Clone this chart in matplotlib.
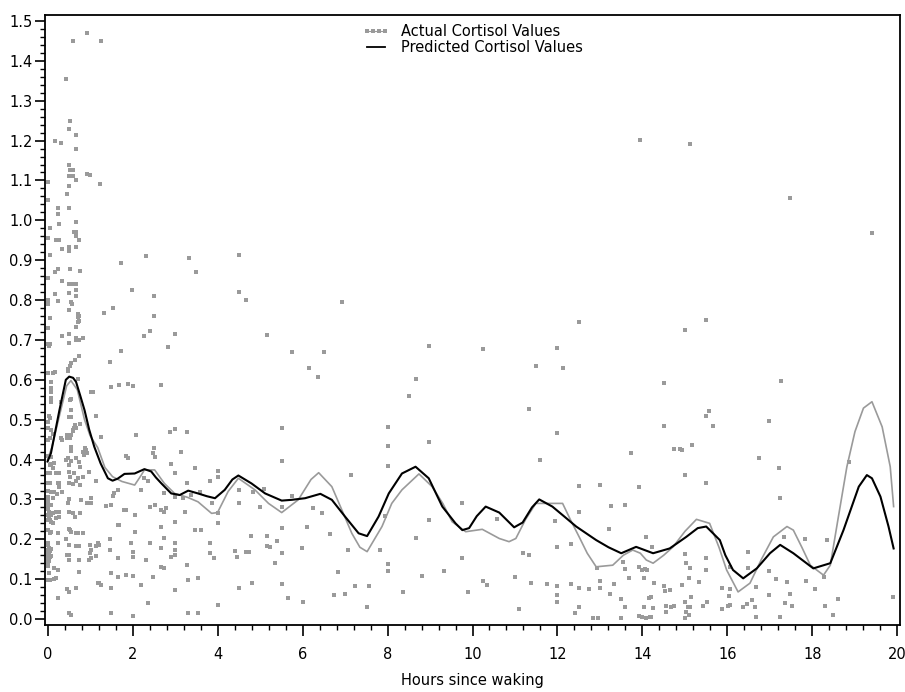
import numpy as np
import matplotlib
matplotlib.use("Agg")
import matplotlib.pyplot as plt
from matplotlib.lines import Line2D
from matplotlib.ticker import MultipleLocator

# observed samples: (hours since waking, cortisol)
actual_points = [
    # first half hour, dense column near waking
    (0.0, 0.955), (0.0, 0.855), (0.01, 0.80), (0.0, 0.79), (0.0, 0.73), (0.05, 0.755), (0.02, 1.096),
    (0.02, 1.05), (0.05, 0.98), (0.05, 0.913), (0.02, 0.69), (0.05, 0.69), (0.03, 0.685), (0.0, 0.618),
    (0.09, 0.595), (0.08, 0.58), (0.09, 0.57), (0.08, 0.555), (0.09, 0.545), (0.04, 0.508), (0.06, 0.503),
    (0.0, 0.495), (0.02, 0.48), (0.08, 0.475), (0.13, 0.465), (0.05, 0.455), (0.02, 0.45), (0.05, 0.386),
    (0.0, 0.41), (0.08, 0.407), (0.07, 0.39), (0.0, 0.365), (0.05, 0.365), (0.0, 0.34), (0.05, 0.34),
    (0.0, 0.322), (0.08, 0.318), (0.02, 0.305), (0.0, 0.297), (0.0, 0.286), (0.08, 0.286), (0.0, 0.275),
    (0.04, 0.269), (0.02, 0.261), (0.08, 0.261), (0.04, 0.257), (0.0, 0.248), (0.05, 0.248), (0.08, 0.244),
    (0.0, 0.223), (0.05, 0.215), (0.08, 0.219), (0.0, 0.19), (0.02, 0.185), (0.04, 0.178), (0.0, 0.172),
    (0.02, 0.168), (0.04, 0.16), (0.0, 0.158), (0.06, 0.155), (0.02, 0.15), (0.08, 0.158), (0.04, 0.145),
    (0.0, 0.14), (0.06, 0.17), (0.08, 0.175), (0.0, 0.098), (0.05, 0.098), (0.04, 0.116), (0.0, 0.133),
    (0.165, 1.20), (0.31, 1.195), (0.25, 1.03), (0.25, 1.015), (0.27, 0.99), (0.21, 0.95), (0.28, 0.95),
    (0.34, 0.929), (0.25, 0.879), (0.17, 0.87), (0.34, 0.848), (0.17, 0.815), (0.25, 0.798), (0.34, 0.711),
    (0.35, 0.71), (0.12, 0.618), (0.17, 0.62), (0.31, 0.545), (0.31, 0.453), (0.16, 0.392), (0.12, 0.38),
    (0.2, 0.365), (0.28, 0.365), (0.24, 0.34), (0.28, 0.34), (0.28, 0.332), (0.16, 0.318), (0.22, 0.314),
    (0.33, 0.318), (0.12, 0.303), (0.13, 0.318), (0.12, 0.267), (0.2, 0.269), (0.28, 0.269), (0.12, 0.24),
    (0.2, 0.253), (0.28, 0.255), (0.25, 0.217), (0.24, 0.19), (0.16, 0.127), (0.24, 0.123), (0.16, 0.1),
    (0.2, 0.103), (0.25, 0.052), (0.43, 1.355), (0.35, 0.45),
    # 0.4 - 0.8 h
    (0.61, 1.45), (0.54, 1.25), (0.50, 1.23), (0.67, 1.215), (0.67, 1.18), (0.50, 1.14), (0.52, 1.125),
    (0.61, 1.125), (0.50, 1.11), (0.61, 1.11), (0.67, 1.10), (0.50, 1.085), (0.46, 1.065), (0.50, 1.03),
    (0.67, 0.996), (0.63, 0.97), (0.68, 0.97), (0.68, 0.96), (0.75, 0.95), (0.67, 0.934), (0.50, 0.933),
    (0.50, 0.924), (0.54, 0.879), (0.76, 0.874), (0.50, 0.84), (0.57, 0.84), (0.67, 0.841), (0.68, 0.824),
    (0.50, 0.817), (0.67, 0.81), (0.55, 0.795), (0.57, 0.79), (0.71, 0.765), (0.75, 0.76), (0.71, 0.758),
    (0.75, 0.748), (0.71, 0.745), (0.50, 0.775), (0.66, 0.733), (0.50, 0.715), (0.68, 0.705), (0.51, 0.715),
    (0.51, 0.693), (0.68, 0.70), (0.75, 0.70), (0.75, 0.66), (0.65, 0.65), (0.55, 0.643), (0.53, 0.635),
    (0.49, 0.627), (0.47, 0.623), (0.71, 0.602), (0.53, 0.55), (0.55, 0.553), (0.50, 0.506), (0.55, 0.506),
    (0.56, 0.525), (0.65, 0.487), (0.63, 0.478), (0.59, 0.472), (0.55, 0.462), (0.51, 0.462), (0.46, 0.462),
    (0.55, 0.432), (0.55, 0.422), (0.47, 0.403), (0.55, 0.397), (0.51, 0.386), (0.67, 0.404), (0.75, 0.395),
    (0.77, 0.382), (0.44, 0.399), (0.51, 0.37), (0.54, 0.357), (0.63, 0.365), (0.71, 0.353), (0.51, 0.34),
    (0.59, 0.339), (0.77, 0.336), (0.68, 0.345), (0.51, 0.30), (0.47, 0.292), (0.79, 0.299), (0.51, 0.269),
    (0.59, 0.265), (0.76, 0.265), (0.64, 0.255), (0.5, 0.225), (0.54, 0.223), (0.55, 0.219), (0.67, 0.217),
    (0.71, 0.215), (0.43, 0.2), (0.51, 0.186), (0.67, 0.183), (0.75, 0.183), (0.46, 0.161), (0.51, 0.16),
    (0.51, 0.148), (0.75, 0.148), (0.75, 0.119), (0.67, 0.077), (0.51, 0.067), (0.51, 0.014), (0.55, 0.01),
    (0.46, 0.075), (0.46, 0.455), (0.52, 0.455), (0.60, 0.475), (0.68, 0.48), (0.76, 0.49),
    # 0.8 - 2.1 h
    (0.92, 1.47), (0.93, 1.117), (1.0, 1.114), (1.23, 1.09), (1.25, 1.45), (0.84, 0.705), (1.02, 0.57),
    (1.06, 0.57), (0.87, 0.428), (0.9, 0.424), (0.94, 0.416), (0.83, 0.42), (0.85, 0.412), (1.14, 0.51),
    (1.26, 0.457), (0.98, 0.37), (0.83, 0.357), (1.14, 0.347), (0.94, 0.29), (1.02, 0.29), (1.03, 0.303),
    (0.84, 0.215), (1.18, 0.19), (1.22, 0.186), (0.99, 0.186), (1.02, 0.173), (1.01, 0.165), (1.02, 0.152),
    (0.98, 0.148), (1.15, 0.183), (1.15, 0.158), (1.22, 0.09), (1.26, 0.085), (1.19, 0.09),
    (1.73, 0.894), (1.99, 0.825), (1.53, 0.779), (1.34, 0.767), (1.73, 0.673), (1.46, 0.645), (1.5, 0.582),
    (1.69, 0.587), (1.89, 0.59), (2.0, 0.585), (2.09, 0.462), (1.85, 0.409), (1.89, 0.404), (1.65, 0.324),
    (1.57, 0.315), (1.53, 0.309), (1.38, 0.283), (1.5, 0.286), (1.85, 0.273), (1.81, 0.273), (2.05, 0.261),
    (1.65, 0.236), (1.69, 0.236), (1.48, 0.2), (1.46, 0.173), (2.0, 0.169), (2.0, 0.156), (1.65, 0.152),
    (1.5, 0.115), (1.85, 0.11), (1.65, 0.106), (2.0, 0.108), (1.5, 0.077), (1.5, 0.016), (2.0, 0.008),
    (2.05, 0.219), (1.97, 0.19),
    # 2.1 - 3.6 h
    (2.32, 0.911), (2.5, 0.811), (2.5, 0.76), (2.28, 0.711), (2.4, 0.723), (2.99, 0.714), (2.83, 0.683),
    (2.68, 0.587), (2.87, 0.47), (2.99, 0.476), (3.27, 0.47), (2.5, 0.428), (3.15, 0.42), (2.48, 0.417),
    (2.52, 0.407), (2.91, 0.39), (3.46, 0.38), (2.99, 0.365), (2.28, 0.353), (2.36, 0.345), (3.27, 0.34),
    (2.99, 0.307), (3.19, 0.303), (3.38, 0.311), (2.2, 0.324), (2.75, 0.315), (2.4, 0.282), (2.52, 0.286),
    (2.68, 0.273), (2.79, 0.278), (2.75, 0.269), (3.23, 0.269), (2.68, 0.232), (2.99, 0.244), (3.46, 0.223),
    (2.4, 0.19), (2.74, 0.202), (2.99, 0.19), (2.99, 0.173), (2.99, 0.16), (2.68, 0.177), (2.32, 0.148),
    (2.91, 0.156), (3.27, 0.135), (2.68, 0.131), (2.75, 0.127), (2.48, 0.106), (2.2, 0.085), (2.99, 0.073),
    (3.31, 0.098), (2.36, 0.041), (3.31, 0.014), (3.33, 0.905), (3.5, 0.87),
    # 3.5 - 10.6 h
    (4.5, 0.913), (4.51, 0.82), (4.68, 0.80), (6.93, 0.794), (5.17, 0.712), (5.75, 0.669), (6.51, 0.669),
    (8.97, 0.685), (10.25, 0.677), (6.16, 0.629), (6.36, 0.608), (8.66, 0.602), (8.5, 0.56), (5.51, 0.48),
    (8.0, 0.481), (8.01, 0.434), (8.97, 0.443), (5.51, 0.396), (8.0, 0.384), (7.15, 0.361), (4.0, 0.371),
    (4.0, 0.357), (3.82, 0.346), (3.58, 0.319), (4.5, 0.324), (5.09, 0.326), (4.84, 0.318), (5.75, 0.309),
    (4.5, 0.292), (3.87, 0.29), (9.76, 0.292), (5.01, 0.28), (5.51, 0.28), (6.24, 0.278), (6.45, 0.267),
    (4.0, 0.265), (7.93, 0.258), (8.97, 0.248), (10.57, 0.251), (4.0, 0.24), (6.1, 0.232), (5.51, 0.229),
    (3.6, 0.223), (6.65, 0.212), (4.79, 0.208), (5.16, 0.208), (5.41, 0.196), (3.82, 0.191), (8.66, 0.202),
    (5.16, 0.183), (5.23, 0.18), (5.98, 0.179), (7.07, 0.173), (7.83, 0.173), (4.41, 0.171), (4.68, 0.167),
    (4.74, 0.167), (5.51, 0.165), (3.82, 0.165), (3.92, 0.152), (4.45, 0.155), (9.76, 0.152), (5.35, 0.14),
    (8.0, 0.137), (8.0, 0.121), (6.83, 0.117), (9.34, 0.121), (8.8, 0.108), (10.25, 0.096), (10.33, 0.085),
    (3.54, 0.103), (4.82, 0.09), (5.51, 0.087), (7.24, 0.083), (7.57, 0.083), (4.5, 0.077), (8.37, 0.067),
    (6.75, 0.06), (7.0, 0.064), (9.9, 0.067), (5.67, 0.052), (6.0, 0.042), (4.0, 0.035), (7.52, 0.031),
    (3.54, 0.014),
    # 10.6 - 20 h
    (13.93, 1.202), (12.5, 0.744), (15.13, 1.192), (17.48, 1.057), (19.4, 0.969), (15.5, 0.75),
    (15.01, 0.725), (12.0, 0.679), (11.49, 0.635), (12.12, 0.629), (14.51, 0.593), (17.25, 0.597),
    (11.32, 0.528), (15.57, 0.523), (15.5, 0.509), (16.98, 0.497), (14.51, 0.484), (15.65, 0.484),
    (12.0, 0.466), (14.74, 0.426), (14.88, 0.427), (14.92, 0.424), (15.16, 0.437), (13.74, 0.416),
    (16.75, 0.403), (11.59, 0.399), (18.87, 0.393), (17.22, 0.378), (15.01, 0.361), (15.5, 0.342),
    (13.92, 0.33), (12.5, 0.334), (12.99, 0.336), (17.24, 0.304), (13.59, 0.286), (13.25, 0.283),
    (12.5, 0.268), (11.95, 0.246), (13.21, 0.227), (14.09, 0.206), (17.34, 0.206), (17.83, 0.201),
    (18.34, 0.198), (12.32, 0.188), (12.0, 0.18), (14.23, 0.18), (16.49, 0.169), (11.18, 0.165),
    (11.33, 0.16), (15.0, 0.163), (15.03, 0.14), (15.5, 0.152), (12.92, 0.127), (13.58, 0.125),
    (13.92, 0.13), (14.05, 0.125), (14.0, 0.122), (14.1, 0.122), (15.13, 0.127), (15.5, 0.124),
    (16.06, 0.131), (16.49, 0.127), (16.98, 0.121), (18.26, 0.105), (11.0, 0.106), (13.01, 0.096),
    (13.68, 0.102), (14.03, 0.102), (13.55, 0.144), (14.26, 0.09), (15.1, 0.102), (15.33, 0.094),
    (11.37, 0.09), (11.75, 0.087), (12.0, 0.084), (12.32, 0.087), (12.5, 0.077), (12.75, 0.075),
    (12.99, 0.077), (13.32, 0.087), (14.5, 0.083), (14.64, 0.074), (14.54, 0.071), (14.94, 0.085),
    (15.88, 0.077), (16.06, 0.075), (16.04, 0.058), (16.67, 0.081), (16.98, 0.06), (17.14, 0.1),
    (17.4, 0.092), (17.46, 0.064), (17.85, 0.096), (18.05, 0.075), (12.0, 0.06), (12.0, 0.043),
    (13.24, 0.064), (13.5, 0.049), (14.15, 0.052), (14.2, 0.056), (14.03, 0.031), (14.25, 0.027),
    (13.92, 0.008), (14.0, 0.005), (14.09, 0.003), (14.17, 0.005), (14.21, 0.006), (13.6, 0.031),
    (13.5, 0.002), (12.83, 0.002), (12.95, 0.002), (12.42, 0.014), (12.5, 0.031), (11.1, 0.024),
    (14.56, 0.033), (14.66, 0.031), (14.73, 0.033), (14.55, 0.018), (15.0, 0.043), (15.06, 0.031),
    (15.12, 0.031), (15.03, 0.018), (15.09, 0.01), (15.0, 0.002), (15.15, 0.056), (15.43, 0.033),
    (15.52, 0.043), (15.86, 0.024), (16.02, 0.033), (16.06, 0.035), (16.37, 0.031), (16.45, 0.038),
    (16.57, 0.048), (16.65, 0.029), (16.66, 0.006), (17.24, 0.004), (17.36, 0.041), (17.51, 0.033),
    (18.3, 0.033), (18.48, 0.01), (18.61, 0.049), (19.9, 0.054),
]

# model prediction (black)
pred_hours = [0.0, 0.08, 0.18, 0.28, 0.43, 0.51, 0.6, 0.67, 0.77, 0.87, 0.98, 1.10, 1.25, 1.42, 1.53,
              1.65, 1.81, 2.05, 2.28, 2.44, 2.55, 2.68, 2.91, 3.11, 3.31, 3.54, 3.75, 3.94, 4.17, 4.35,
              4.49, 4.8, 5.12, 5.51, 5.75, 6.06, 6.42, 6.69, 7.0, 7.32, 7.52, 7.79, 8.03, 8.34, 8.66,
              8.97, 9.29, 9.6, 9.76, 9.92, 10.1, 10.31, 10.63, 10.98, 11.18, 11.4, 11.57, 11.88, 12.15,
              12.44, 12.91, 13.2, 13.5, 13.85, 14.25, 14.64, 15.03, 15.3, 15.5, 15.82, 15.95, 16.13,
              16.37, 16.69, 17.0, 17.24, 17.55, 18.02, 18.42, 18.73, 19.09, 19.28, 19.4, 19.6, 19.79, 19.91]
pred_vals = [0.395, 0.416, 0.47, 0.524, 0.60, 0.608, 0.605, 0.595, 0.56, 0.524, 0.475, 0.432, 0.39, 0.353,
             0.347, 0.352, 0.364, 0.365, 0.376, 0.37, 0.355, 0.34, 0.315, 0.311, 0.322, 0.315, 0.308,
             0.303, 0.324, 0.35, 0.36, 0.34, 0.315, 0.297, 0.299, 0.303, 0.314, 0.299, 0.257, 0.215,
             0.208, 0.257, 0.315, 0.365, 0.382, 0.353, 0.282, 0.24, 0.223, 0.228, 0.258, 0.282, 0.267,
             0.23, 0.242, 0.28, 0.30, 0.282, 0.258, 0.232, 0.198, 0.18, 0.165, 0.181, 0.165, 0.177,
             0.206, 0.228, 0.232, 0.198, 0.16, 0.123, 0.102, 0.127, 0.165, 0.186, 0.165, 0.127, 0.14,
             0.223, 0.332, 0.361, 0.353, 0.307, 0.232, 0.177]

# smoothed observed values (grey)
smooth_hours = [0.0, 0.1, 0.28, 0.45, 0.55, 0.7, 0.87, 1.0, 1.18, 1.35, 1.53, 1.75, 2.05, 2.2, 2.28, 2.52,
                2.75, 2.99, 3.3, 3.54, 3.86, 4.0, 4.25, 4.49, 4.88, 5.2, 5.51, 5.9, 6.2, 6.38, 6.69, 6.9,
                7.16, 7.35, 7.52, 7.87, 8.1, 8.34, 8.74, 9.05, 9.3, 9.52, 9.84, 10.23, 10.63, 10.86, 11.02,
                11.25, 11.49, 12.12, 12.3, 12.51, 12.7, 12.91, 13.3, 13.55, 13.77, 13.95, 14.09, 14.25,
                14.5, 14.72, 15.0, 15.27, 15.58, 15.8, 15.98, 16.25, 16.53, 16.8, 17.08, 17.4, 17.55,
                17.75, 17.95, 18.26, 18.42, 18.6, 18.81, 19.0, 19.2, 19.4, 19.64, 19.83, 19.91]
smooth_vals = [0.40, 0.43, 0.51, 0.585, 0.598, 0.575, 0.50, 0.46, 0.43, 0.38, 0.357, 0.345, 0.336, 0.36,
               0.374, 0.374, 0.34, 0.315, 0.305, 0.294, 0.265, 0.267, 0.32, 0.353, 0.324, 0.29, 0.267,
               0.299, 0.35, 0.367, 0.332, 0.28, 0.215, 0.18, 0.169, 0.232, 0.29, 0.324, 0.364, 0.332,
               0.29, 0.244, 0.219, 0.225, 0.202, 0.194, 0.202, 0.25, 0.29, 0.29, 0.25, 0.206, 0.165,
               0.131, 0.135, 0.16, 0.173, 0.165, 0.148, 0.14, 0.16, 0.181, 0.22, 0.25, 0.24, 0.18, 0.123,
               0.068, 0.09, 0.15, 0.206, 0.232, 0.223, 0.18, 0.135, 0.11, 0.135, 0.25, 0.382, 0.47,
               0.529, 0.545, 0.482, 0.382, 0.282]

legend_labels = ["Actual Cortisol Values", "Predicted Cortisol Values"]
x_label = "Hours since waking"

GREY = "#9a9a9a"

fig = plt.figure(figsize=(9.05, 6.92), dpi=100)
ax = fig.add_axes([45 / 905, 1 - 625 / 692, 855 / 905, 610 / 692])

pts = np.array(actual_points)
ax.plot(pts[:, 0], pts[:, 1], linestyle="none", marker="s", markersize=2.6,
        color=GREY, markeredgewidth=0, zorder=2)
ax.plot(smooth_hours, smooth_vals, color=GREY, lw=1.2, solid_joinstyle="round", zorder=3)
ax.plot(pred_hours, pred_vals, color="black", lw=1.5, solid_joinstyle="round", zorder=4)

ax.set_xlim(-0.06, 20.06)
ax.set_ylim(-0.015, 1.515)

ax.xaxis.set_major_locator(MultipleLocator(2))
ax.xaxis.set_minor_locator(MultipleLocator(0.4))
ax.yaxis.set_major_locator(MultipleLocator(0.1))
ax.yaxis.set_minor_locator(MultipleLocator(0.02))
ax.xaxis.set_major_formatter(plt.FuncFormatter(lambda v, p: f"{v:.0f}"))
ax.yaxis.set_major_formatter(plt.FuncFormatter(lambda v, p: f"{v:.1f}"))

ax.tick_params(which="major", direction="out", length=7, width=1.2, labelsize=10.5, colors="black")
ax.tick_params(which="minor", direction="out", length=3.5, width=1.0)
ax.tick_params(axis="x", which="major", length=8, pad=8)
ax.tick_params(axis="y", which="major", pad=2)
for sp in ax.spines.values():
    sp.set_linewidth(1.3)

ax.set_xlabel(x_label, fontsize=10.5, labelpad=8)

handles = [
    Line2D([], [], color=GREY, lw=0.8, marker="s", markersize=2.8, markeredgewidth=0),
    Line2D([], [], color="black", lw=1.3),
]
ax.legend(handles, legend_labels, loc="upper left", bbox_to_anchor=(0.365, 0.995),
          frameon=False, fontsize=10.5, handlelength=1.8, handletextpad=0.8,
          labelspacing=0.05, numpoints=4, borderaxespad=0)

fig.savefig("out.png", dpi=100)
